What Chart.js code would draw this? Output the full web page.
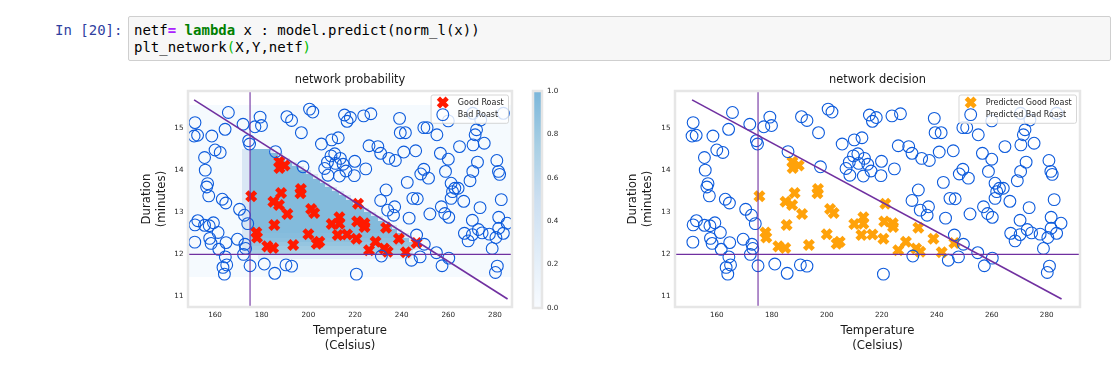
<!DOCTYPE html>
<html>
<head>
<meta charset="utf-8">
<script src="https://cdn.jsdelivr.net/npm/chart.js@4.4.1/dist/chart.umd.min.js"></script>
<style>
  html, body { margin: 0; padding: 0; background: #fff; width: 1119px; height: 366px; overflow: hidden; }
  .prompt { position: absolute; left: 55px; top: 22px; font: 14px/17px "DejaVu Sans Mono", monospace; color: #303F9F; white-space: pre; }
  .cell { position: absolute; left: 128px; top: 16px; width: 981px; height: 43px; background: #f7f7f7; border: 1px solid #cfcfcf; border-radius: 2px; }
  .code { position: absolute; left: 5px; top: 5px; font: 14px/17px "DejaVu Sans Mono", monospace; color: #000; white-space: pre; }
  .op { color: #AA22FF; font-weight: bold; }
  .kw { color: #008000; font-weight: bold; }
  .br { color: #00bb00; }
  .panel { position: absolute; top: 66px; }
</style>
</head>
<body>
<div class="prompt">In [20]:</div>
<div class="cell"><div class="code">netf<span class="op">=</span> <span class="kw">lambda</span> x : model.predict(norm_l(x))
plt_network<span class="br">(</span>X,Y,netf<span class="br">)</span></div></div>

<div class="panel" style="left:130px"><canvas id="probChart" width="440" height="300"></canvas></div>
<div class="panel" style="left:525px"><canvas id="cbarChart" width="50" height="300"></canvas></div>
<div class="panel" style="left:610px"><canvas id="decisionChart" width="509" height="300"></canvas></div>

<script>
// values
const goodTemp = [175.5, 177.7, 178.0, 182.4, 184.9, 185.4, 185.0, 187.4, 188.3, 191.0,
                  187.5, 189.8, 187.6, 193.5, 196.8, 196.6, 201.2, 202.5, 200.0, 203.6,
                  204.7, 210.0, 213.3, 213.3, 212.6, 216.6, 220.6, 220.9, 224.0, 224.1,
                  221.3, 233.3, 228.8, 226.0, 232.5, 234.0, 238.8, 241.8, 246.4];
const goodDur  = [13.38, 12.52, 12.40, 12.19, 12.15, 12.70, 13.25, 13.17, 13.46, 12.96,
                  14.20, 14.11, 14.05, 12.22, 13.55, 13.45, 13.08, 12.98, 12.48, 12.25,
                  12.30, 12.72, 12.88, 12.73, 12.46, 12.47, 12.37, 12.78, 12.74, 12.65,
                  13.20, 12.63, 12.30, 12.10, 12.14, 12.06, 12.37, 12.05, 12.27];

const badTemp = [151.4, 151.0, 152.5, 158.6, 165.7, 164.3, 172.0, 179.3, 179.9, 177.1,
                 174.4, 174.8, 190.8, 192.8, 185.9, 155.5, 155.8, 156.8, 156.4, 157.3,
                 160.0, 162.2, 163.1, 164.6, 170.5, 172.6, 174.0, 151.4, 152.6, 155.5,
                 157.5, 159.3, 161.3, 151.3, 157.7, 158.3, 161.6, 164.7, 164.4, 165.0,
                 163.4, 164.0, 169.6, 172.8, 173.1, 172.2, 175.0, 181.1, 185.6, 190.4,
                 192.8, 197.0, 200.5, 201.9, 205.6, 210.0, 212.8, 215.5, 216.6, 218.0,
                 223.7, 226.8, 239.1, 239.4, 241.6, 226.0, 229.8, 231.0, 234.5, 237.3,
                 240.9, 209.7, 211.3, 208.2, 207.0, 208.4, 211.6, 213.7, 214.9, 216.1,
                 213.3, 219.9, 219.7, 224.6, 197.7, 233.3, 231.0, 242.4, 249.5, 250.9,
                 255.1, 260.0, 272.1, 271.5, 270.6, 273.9, 264.8, 275.4, 246.0, 256.6,
                 260.0, 272.5, 280.8, 249.5, 248.2, 251.5, 258.8, 270.5, 269.3, 281.5,
                 282.0, 261.2, 262.8, 264.2, 261.8, 266.6, 244.8, 246.7, 261.2, 282.7,
                 273.6, 252.1, 257.0, 258.5, 260.2, 243.2, 270.3, 281.6, 285.2, 266.9,
                 268.5, 270.3, 272.9, 274.5, 277.6, 280.4, 281.6, 283.6, 278.8, 281.0,
                 280.2, 246.4, 249.7, 254.9, 247.9, 244.2, 257.3, 260.2, 234.0, 237.0,
                 236.5, 231.3, 220.6, 283.6, 270.5];
const badDur  = [15.13, 14.81, 14.83, 14.81, 15.37, 14.97, 15.09, 15.26, 15.06, 15.03,
                 14.70, 14.62, 15.27, 15.18, 14.44, 14.30, 14.00, 13.68, 13.60, 13.39,
                 14.48, 14.42, 13.31, 13.22, 13.07, 12.93, 12.73, 12.70, 12.80, 12.69,
                 12.68, 12.75, 12.52, 12.29, 12.38, 12.26, 12.12, 12.28, 11.94, 11.75,
                 11.69, 11.53, 12.36, 12.24, 12.14, 12.00, 11.73, 11.77, 11.55, 11.75,
                 11.72, 14.89, 15.45, 15.38, 14.62, 14.72, 14.77, 15.31, 15.16, 15.25,
                 15.29, 15.34, 15.23, 14.89, 14.89, 14.58, 14.56, 14.40, 14.28, 14.23,
                 14.43, 14.34, 14.39, 14.19, 14.04, 13.88, 14.16, 14.28, 14.14, 13.98,
                 13.86, 14.21, 13.87, 14.03, 14.08, 13.53, 13.28, 13.71, 15.01, 15.01,
                 14.84, 15.17, 14.96, 14.84, 14.60, 15.19, 14.56, 14.64, 14.46, 14.40,
                 14.26, 14.19, 14.23, 14.02, 13.91, 13.81, 13.97, 13.97, 13.75, 13.97,
                 13.90, 13.69, 13.57, 13.57, 13.49, 13.26, 13.33, 13.32, 13.33, 13.30,
                 13.11, 12.96, 13.13, 12.97, 12.88, 12.86, 12.81, 12.88, 12.74, 12.50,
                 12.32, 12.47, 12.59, 12.51, 12.48, 12.40, 12.62, 12.50, 12.14, 11.72,
                 11.57, 12.46, 12.24, 12.04, 11.94, 11.86, 11.73, 11.91, 13.05, 13.13,
                 12.93, 11.96, 11.53, 15.35, 15.35];

// decision line and the two cut lines
const lineTemp = [151.0, 285.4];
const lineDur = [15.67, 10.94];
const tempCut = 175;
const durCut = 12;

const xTicks = [160, 180, 200, 220, 240, 260, 280];
const yTicks = [11, 12, 13, 14, 15];
const cbTicks = [0, 0.2, 0.4, 0.6, 0.8, 1.0];

// network probability surface, one band per row of duration
const heatRowDur  = [14.45, 14.35, 14.25, 14.15, 14.05, 13.95, 13.85, 13.75, 13.65, 13.55,
                     13.45, 13.35, 13.25, 13.15, 13.05, 12.95, 12.85, 12.75, 12.65, 12.55,
                     12.45, 12.35, 12.25, 12.15, 12.05, 11.95];
const heatRowFrom = [175, 175, 175, 175, 175, 175, 175, 175, 175, 175,
                     175, 175, 175, 175, 175, 175, 175, 175, 175, 175,
                     175, 175, 175, 175, 175, 178.5];
const heatRowTo   = [183, 187, 190, 193, 196, 199, 202, 205, 207, 210,
                     213, 216, 219, 221, 224, 227, 230, 233, 236, 238,
                     241, 243, 245, 245, 243, 244.6];
const heatRowP    = [0.95, 0.95, 0.95, 0.95, 0.95, 0.95, 0.95, 0.95, 0.95, 0.95,
                     0.95, 0.95, 0.95, 0.95, 0.95, 0.95, 0.95, 0.95, 0.95, 0.95,
                     0.93, 0.9, 0.85, 0.8, 0.75, 0.22];
const heatBgDur = [11.47, 15.55];
const heatBgP = 0.03;
const heatEdgeP = 0.35;
const heatCellW = 3.45;
const heatCellH = 0.1;

const probX = [148.4, 287.3];
const decX = [144.8, 292.1];
const durRange = [10.75, 15.88];

const PURPLE = '#7030A0';
const DARKBLUE = '#0D5BDC';
const TXT = '#1a1a1a';

// truncated Blues colormap (0..0.5 of Blues), alpha 0.9 on white
const bluesStops = [[247, 251, 255], [222, 235, 247], [198, 219, 239], [158, 202, 225], [107, 174, 214]];
function probColor(p) {
    const t = Math.max(0, Math.min(1, p)) * (bluesStops.length - 1);
    const i = Math.min(Math.floor(t), bluesStops.length - 2);
    const f = t - i;
    const c = bluesStops[i].map((v, k) => v + (bluesStops[i + 1][k] - v) * f);
    const rgb = c.map(v => Math.round(v * 0.9 + 255 * 0.1));
    return `rgb(${rgb[0]},${rgb[1]},${rgb[2]})`;
}

const pts = (xs, ys) => xs.map((x, i) => ({x: x, y: ys[i]}));

// plugins
const heatPlugin = {
    id: 'heat',
    beforeDatasetsDraw(chart, args, opts) {
        if (!opts.on) return;
        const {ctx, chartArea: a, scales: {x, y}} = chart;
        ctx.save();
        ctx.beginPath();
        ctx.rect(a.left, a.top, a.width, a.height);
        ctx.clip();
        // snap cells to whole pixels so neighbouring bands meet without seams
        const cell = (x0, x1, y0, y1, p) => {
            const px0 = Math.round(x.getPixelForValue(x0)), px1 = Math.round(x.getPixelForValue(x1));
            const py0 = Math.round(y.getPixelForValue(y0)), py1 = Math.round(y.getPixelForValue(y1));
            ctx.fillStyle = probColor(p);
            ctx.fillRect(px0, py1, px1 - px0, py0 - py1);
        };
        cell(x.min, x.max, heatBgDur[0], heatBgDur[1], heatBgP);
        heatRowDur.forEach((d, i) => {
            const y0 = d - heatCellH / 2, y1 = d + heatCellH / 2;
            if (heatRowP[i] > 0.5) {
                cell(heatRowFrom[i] - heatCellW, heatRowFrom[i], y0, y1, heatEdgeP);
                cell(heatRowTo[i], heatRowTo[i] + heatCellW * 0.6, y0, y1, heatEdgeP);
            }
            cell(heatRowFrom[i], heatRowTo[i], y0, y1, heatRowP[i]);
        });
        ctx.restore();
    }
};

const framePlugin = {
    id: 'frame',
    afterDatasetsDraw(chart) {
        const {ctx, chartArea: a} = chart;
        ctx.save();
        ctx.strokeStyle = '#e6e6e6';
        ctx.lineWidth = 2.5;
        ctx.strokeRect(a.left, a.top, a.width, a.height);
        ctx.restore();
    }
};

const titlePlugin = {
    id: 'panelTitle',
    afterDraw(chart, args, opts) {
        if (!opts.text) return;
        const {ctx, chartArea: a} = chart;
        ctx.save();
        ctx.font = '11.4px "DejaVu Sans"';
        ctx.fillStyle = TXT;
        ctx.textAlign = 'center';
        ctx.textBaseline = 'middle';
        ctx.fillText(opts.text, (a.left + a.right) / 2, a.top - 10.5);
        ctx.restore();
    }
};

const boxLegend = {
    id: 'boxLegend',
    afterDraw(chart, args, opts) {
        if (!opts.sets) return;
        const {ctx, chartArea: a} = chart;
        const sets = opts.sets.map(i => chart.data.datasets[i]);
        ctx.save();
        ctx.font = '8px "DejaVu Sans"';
        const tw = Math.max(...sets.map(d => ctx.measureText(d.label).width));
        const w = 27 + tw + 4.5, h = 28.3;
        const bx = a.right - 3.5 - w, by = a.top + 4;
        ctx.fillStyle = 'rgba(255,255,255,0.8)';
        ctx.strokeStyle = '#cccccc';
        ctx.lineWidth = 0.8;
        ctx.beginPath();
        if (ctx.roundRect) ctx.roundRect(bx, by, w, h, 2); else ctx.rect(bx, by, w, h);
        ctx.fill();
        ctx.stroke();
        sets.forEach((d, k) => {
            const cy = by + 7.6 + 12 * k;
            ctx.fillStyle = d.pointBackgroundColor;
            ctx.strokeStyle = d.pointBorderColor;
            ctx.lineWidth = d.pointBorderWidth;
            Chart.helpers.drawPoint(ctx, {pointStyle: d.pointStyle, radius: d.pointRadius,
                borderWidth: d.pointBorderWidth, rotation: 0}, bx + 11.7, cy);
            ctx.fillStyle = '#262626';
            ctx.textAlign = 'left';
            ctx.textBaseline = 'middle';
            ctx.fillText(d.label, bx + 26.7, cy);
        });
        ctx.restore();
    }
};

function axes(xRange, yWidth, yTitlePad) {
    const tickFont = {family: 'DejaVu Sans', size: 7.2};
    const titleFont = {family: 'DejaVu Sans', size: 11.7, lineHeight: '15px'};
    return {
        x: {
            type: 'linear', min: xRange[0], max: xRange[1],
            grid: {display: false, drawTicks: false}, border: {display: false},
            afterBuildTicks: s => { s.ticks = xTicks.map(v => ({value: v})); },
            afterFit: s => { s.height = 46.5; },
            ticks: {padding: 4, color: '#262626', font: tickFont, maxRotation: 0},
            title: {display: true, text: ['Temperature', '(Celsius)'], color: TXT, font: titleFont, padding: {top: 0, bottom: 0}}
        },
        y: {
            type: 'linear', min: durRange[0], max: durRange[1],
            grid: {display: false, drawTicks: false}, border: {display: false},
            afterBuildTicks: s => { s.ticks = yTicks.map(v => ({value: v})); },
            afterFit: s => { s.width = yWidth; },
            ticks: {padding: 4.5, color: '#262626', font: tickFont},
            title: {display: true, text: ['Duration', '(minutes)'], color: TXT, font: titleFont, padding: {top: yTitlePad, bottom: 0}}
        }
    };
}

function panelData(goodLabel, badLabel, goodColor, xRange) {
    return {
        datasets: [
            {label: 'boundary', data: pts(lineTemp, lineDur), showLine: true, pointRadius: 0,
             borderColor: PURPLE, borderWidth: 1.6, clip: 0},
            {label: 'durCut', data: [{x: xRange[0], y: durCut}, {x: xRange[1], y: durCut}], showLine: true,
             pointRadius: 0, borderColor: PURPLE, borderWidth: 1.1, clip: 0},
            {label: 'tempCut', data: [{x: tempCut, y: durRange[0]}, {x: tempCut, y: durRange[1]}], showLine: true,
             pointRadius: 0, borderColor: PURPLE, borderWidth: 1.1, clip: 0},
            {label: badLabel, data: pts(badTemp, badDur), pointStyle: 'circle', pointRadius: 5.9,
             pointBorderWidth: 1.1, pointBorderColor: DARKBLUE, pointBackgroundColor: 'rgba(0,0,0,0)', clip: 0},
            {label: goodLabel, data: pts(goodTemp, goodDur), pointStyle: 'crossRot', pointRadius: 6.2,
             pointBorderWidth: 4.6, pointBorderColor: goodColor, pointBackgroundColor: goodColor, clip: 0}
        ]
    };
}

function panelOptions(title, xRange, yWidth, yTitlePad, padRight, showHeat) {
    return {
        responsive: false, animation: false, devicePixelRatio: 1,
        events: [],
        layout: {padding: {left: 0, right: padRight, top: 25, bottom: 12.5}},
        scales: axes(xRange, yWidth, yTitlePad),
        plugins: {
            legend: {display: false}, tooltip: {enabled: false},
            heat: {on: showHeat},
            panelTitle: {text: title},
            boxLegend: {sets: [4, 3]}
        }
    };
}

const panelPlugins = [heatPlugin, framePlugin, titlePlugin, boxLegend];

new Chart(document.getElementById('probChart'), {
    type: 'scatter',
    data: panelData('Good Roast', 'Bad Roast', '#ff1a00', probX),
    options: panelOptions('network probability', probX, 58, 9.2, 58, true),
    plugins: panelPlugins
});

new Chart(document.getElementById('decisionChart'), {
    type: 'scatter',
    data: panelData('Predicted Good Roast', 'Predicted Bad Roast', '#FFA20A', decX),
    options: panelOptions('network decision', decX, 65, 15.5, 39, false),
    plugins: panelPlugins
});

// colour bar for the probability panel
new Chart(document.getElementById('cbarChart'), {
    type: 'bar',
    data: {
        labels: [''],
        datasets: [{
            data: [1], barPercentage: 1, categoryPercentage: 1, borderWidth: 0,
            backgroundColor: (c) => {
                const a = c.chart.chartArea;
                if (!a) return probColor(1);
                const ys = c.chart.scales.y;
                const g = c.chart.ctx.createLinearGradient(0, ys.getPixelForValue(0), 0, ys.getPixelForValue(1));
                bluesStops.forEach((s, i) => {
                    const p = i / (bluesStops.length - 1);
                    g.addColorStop(p, probColor(p));
                });
                return g;
            }
        }]
    },
    options: {
        responsive: false, animation: false, devicePixelRatio: 1, events: [],
        layout: {padding: {left: 8, right: 13, top: 25, bottom: 58}},
        scales: {
            x: {display: false},
            y: {
                position: 'right', min: 0, max: 1,
                grid: {display: false, drawTicks: false}, border: {display: false},
                afterBuildTicks: s => { s.ticks = cbTicks.map(v => ({value: v})); },
                afterFit: s => { s.width = 20; },
                ticks: {padding: 5, color: '#262626', font: {family: 'DejaVu Sans', size: 7.2},
                        callback: v => v.toFixed(1)}
            }
        },
        plugins: {legend: {display: false}, tooltip: {enabled: false}}
    },
    plugins: [framePlugin]
});
</script>
</body>
</html>
